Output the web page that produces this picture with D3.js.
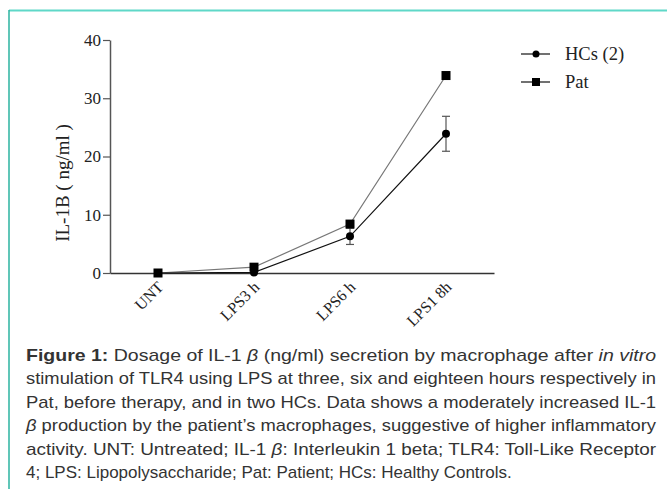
<!DOCTYPE html>
<html lang="en">
<head>
  <meta charset="UTF-8">
  <title>IL-1B secretion</title>
  <script src="https://cdnjs.cloudflare.com/ajax/libs/d3/7.8.5/d3.min.js"></script>
  <style>
    body { margin: 0; background: #fff; }
    svg { display: block; }
  </style>
</head>
<body>
<svg width="667" height="489"></svg>
<script>
  const categories = ["UNT", "LPS3 h", "LPS6 h", "LPS1 8h"];
  const hcs = [0, 0.1, 6.3, 23.9];
  const hcsErr = [0, 0, 1.4, 3.0];
  const pat = [0, 1.0, 8.4, 33.9];
  const yTicks = [0, 10, 20, 30, 40];

  // caption lines, as broken in the figure (b = bold, i = italic)
  const captionLines = [
    [["b", "Figure 1:"], ["", " Dosage of IL-1 "], ["i", "β"], ["", " (ng/ml) secretion by macrophage after "], ["i", "in vitro"]],
    [["", "stimulation of TLR4 using LPS at three, six and eighteen hours respectively in"]],
    [["", "Pat, before therapy, and in two HCs. Data shows a moderately increased IL-1"]],
    [["i", "β"], ["", " production by the patient’s macrophages, suggestive of higher inflammatory"]],
    [["", "activity. UNT: Untreated; IL-1 "], ["i", "β"], ["", ": Interleukin 1 beta; TLR4: Toll-Like Receptor"]],
    [["", "4; LPS: Lipopolysaccharide; Pat: Patient; HCs: Healthy Controls."]]
  ];

  const svg = d3.select("svg");
  const serif = '"Liberation Serif", "Times New Roman", serif';
  const sans = '"Liberation Sans", Arial, sans-serif';

  // teal frame
  svg.append("line").attr("x1", 9).attr("x2", 667).attr("y1", 10.5).attr("y2", 10.5)
     .attr("stroke", "#5fd8c8").attr("stroke-width", 2);
  svg.append("line").attr("x1", 9).attr("x2", 9).attr("y1", 10).attr("y2", 489)
     .attr("stroke", "#2bb3a0").attr("stroke-width", 1.5);

  const x = d3.scalePoint().domain(categories).range([110, 494]).padding(0.5);
  const y = d3.scaleLinear().domain([0, 40]).range([273, 40]);

  // y axis
  const yAxis = svg.append("g")
     .attr("transform", "translate(110,0)")
     .call(d3.axisLeft(y).tickValues(yTicks).tickSize(7).tickSizeOuter(0));
  yAxis.select(".domain").attr("stroke", "#555").attr("stroke-width", 1.5);
  yAxis.selectAll(".tick line").attr("stroke", "#555").attr("stroke-width", 1.2);
  yAxis.selectAll(".tick text").attr("font-family", serif).attr("font-size", 17)
     .attr("fill", "#222").attr("x", -9);

  // x axis
  const xAxis = svg.append("g")
     .attr("transform", "translate(0,273)")
     .call(d3.axisBottom(x).tickSize(0).tickSizeOuter(0));
  xAxis.select(".domain").attr("stroke", "#333").attr("stroke-width", 1.5);
  xAxis.selectAll(".tick text")
     .attr("font-family", serif).attr("font-size", 16).attr("fill", "#222")
     .attr("text-anchor", "end")
     .attr("dy", null).attr("y", null)
     .attr("transform", "translate(6,15) rotate(-45)");

  // y label
  svg.append("text")
     .attr("transform", "translate(69,183) rotate(-90)")
     .attr("text-anchor", "middle")
     .attr("font-family", serif).attr("font-size", 19).attr("fill", "#222")
     .text("IL-1B ( ng/ml )");

  const line = d3.line().x((d, i) => x(categories[i])).y(d => y(d));

  svg.append("path").datum(pat).attr("d", line)
     .attr("fill", "none").attr("stroke", "#777").attr("stroke-width", 1.2);
  svg.append("path").datum(hcs).attr("d", line)
     .attr("fill", "none").attr("stroke", "#111").attr("stroke-width", 1.2);

  // error bars for HCs
  const eb = svg.append("g").attr("stroke", "#555").attr("stroke-width", 1.2);
  hcs.forEach((v, i) => {
    if (!hcsErr[i]) return;
    const cx = x(categories[i]);
    eb.append("line").attr("x1", cx).attr("x2", cx).attr("y1", y(v + hcsErr[i])).attr("y2", y(v - hcsErr[i]));
    [v + hcsErr[i], v - hcsErr[i]].forEach(e => {
      eb.append("line").attr("x1", cx - 4).attr("x2", cx + 4).attr("y1", y(e)).attr("y2", y(e));
    });
  });

  svg.append("g").selectAll("rect").data(pat).join("rect")
     .attr("x", (d, i) => x(categories[i]) - 4.5).attr("y", d => y(d) - 4.5)
     .attr("width", 9).attr("height", 9).attr("fill", "#000");
  svg.append("g").selectAll("circle").data(hcs).join("circle")
     .attr("cx", (d, i) => x(categories[i])).attr("cy", d => y(d))
     .attr("r", 4).attr("fill", "#000");

  // legend
  const legend = [
    { name: "HCs (2)", shape: "circle", yy: 54 },
    { name: "Pat", shape: "square", yy: 82 }
  ];
  const lg = svg.append("g");
  legend.forEach(d => {
    lg.append("line").attr("x1", 521).attr("x2", 550).attr("y1", d.yy).attr("y2", d.yy)
      .attr("stroke", "#111").attr("stroke-width", 1.2);
    if (d.shape === "circle") {
      lg.append("circle").attr("cx", 536).attr("cy", d.yy).attr("r", 3.5).attr("fill", "#000");
    } else {
      lg.append("rect").attr("x", 532).attr("y", d.yy - 4).attr("width", 8).attr("height", 8).attr("fill", "#000");
    }
    lg.append("text").attr("x", 565).attr("y", d.yy + 6)
      .attr("font-family", serif).attr("font-size", 18.5).attr("fill", "#222")
      .text(d.name);
  });

  // caption, each line stretched to the justified width
  const cap = svg.append("g").attr("font-family", sans).attr("font-size", 17).attr("fill", "#333");
  captionLines.forEach((parts, i) => {
    const t = cap.append("text").attr("x", 26).attr("y", 361 + i * 23.4)
      .attr("xml:space", "preserve");
    parts.forEach(([style, s]) => {
      const ts = t.append("tspan").text(s);
      if (style === "b") ts.attr("font-weight", "bold");
      if (style === "i") ts.attr("font-style", "italic");
    });
    if (i < captionLines.length - 1) {
      t.attr("textLength", 630).attr("lengthAdjust", "spacingAndGlyphs");
    }
  });
</script>
</body>
</html>
